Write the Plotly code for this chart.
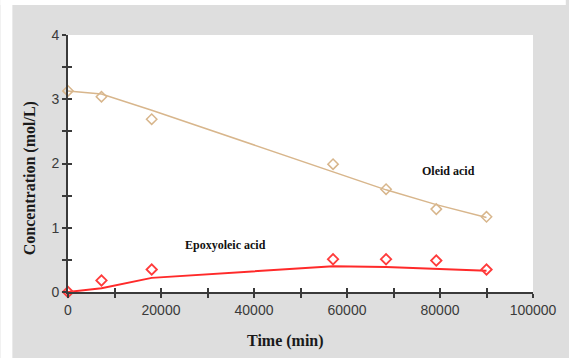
import plotly.graph_objects as go

time_min = [0, 7200, 18000, 57000, 68400, 79200, 90000]
oleic_obs = [3.13, 3.04, 2.69, 1.99, 1.60, 1.29, 1.17]
oleic_fit = [3.13, 3.08, 2.83, 1.88, 1.59, 1.36, 1.16]
epoxy_obs = [0.0, 0.18, 0.35, 0.51, 0.51, 0.49, 0.35]
epoxy_fit = [0.0, 0.06, 0.22, 0.40, 0.39, 0.36, 0.33]

y_ticks = [0, 0.5, 1, 1.5, 2, 2.5, 3, 3.5, 4]
y_text = ["0", "", "1", "", "2", "", "3", "", "4"]
x_ticks = list(range(0, 100001, 10000))
x_text = [str(v) if v % 20000 == 0 else "" for v in x_ticks]

TAN = "#d8b68c"
RED = "#ff2a2a"

fig = go.Figure()
fig.add_trace(go.Scatter(x=time_min, y=oleic_fit, mode="lines",
                         line=dict(color=TAN, width=1.5), cliponaxis=False, showlegend=False))
fig.add_trace(go.Scatter(x=time_min, y=oleic_obs, mode="markers",
                         marker=dict(symbol="diamond-open", size=8, color=TAN, line=dict(width=1.5)),
                         cliponaxis=False, showlegend=False))
fig.add_trace(go.Scatter(x=time_min, y=epoxy_fit, mode="lines",
                         line=dict(color=RED, width=2), cliponaxis=False, showlegend=False))
fig.add_trace(go.Scatter(x=time_min, y=epoxy_obs, mode="markers",
                         marker=dict(symbol="diamond-open", size=8, color="#ff3b3b", line=dict(width=1.8)),
                         cliponaxis=False, showlegend=False))

tickfont = dict(family="Liberation Sans, Arial", size=14, color="#3a3a3a")
axcol = "#3a3a3a"

fig.update_layout(
    width=569, height=358,
    margin=dict(l=68, r=33, t=35, b=66),
    paper_bgcolor="#dedede",
    plot_bgcolor="white",
    xaxis=dict(range=[0, 100000], tickvals=x_ticks, ticktext=x_text, ticks="outside",
               ticklen=4, tickwidth=1.5, tickcolor=axcol, showline=True, linecolor=axcol,
               linewidth=2, showgrid=False, zeroline=False, tickfont=tickfont, fixedrange=True),
    yaxis=dict(range=[0, 4], tickvals=y_ticks, ticktext=y_text, ticks="outside",
               ticklen=4, tickwidth=1.5, tickcolor=axcol, showline=True, linecolor=axcol,
               linewidth=2, showgrid=False, zeroline=False, tickfont=tickfont, fixedrange=True),
    xaxis2=dict(range=[0, 100000], overlaying="x", tickvals=x_ticks, ticks="inside", ticklen=4,
                tickwidth=1.5, tickcolor=axcol, showticklabels=False, showline=False,
                showgrid=False, zeroline=False, fixedrange=True),
    yaxis2=dict(range=[0, 4], overlaying="y", tickvals=y_ticks, ticks="inside", ticklen=4,
                tickwidth=1.5, tickcolor=axcol, showticklabels=False, showline=False,
                showgrid=False, zeroline=False, fixedrange=True),
    shapes=[
        dict(type="rect", xref="paper", yref="paper", x0=-68/468, x1=(12-68)/468,
             y0=-66/257, y1=292/257, fillcolor="white", line=dict(width=0), layer="below"),
        dict(type="rect", xref="paper", yref="paper", x0=-68/468, x1=501/468,
             y0=(292-5)/257, y1=292/257, fillcolor="white", line=dict(width=0), layer="below"),
    ],
    annotations=[
        dict(text="<b>Concentration (mol/L)</b>", xref="paper", yref="paper", x=-0.083, y=0.444,
             xanchor="center", yanchor="middle", textangle=-90, showarrow=False,
             font=dict(family="Liberation Serif, Times New Roman", size=16, color="#1a1a1a")),
        dict(text="<b>Time (min)</b>", xref="paper", yref="paper", x=0.468, y=-0.19,
             xanchor="center", yanchor="middle", showarrow=False,
             font=dict(family="Liberation Serif, Times New Roman", size=16, color="#1a1a1a")),
        dict(text="<b>Oleid acid</b>", xref="x", yref="y", x=81800, y=1.88, showarrow=False,
             font=dict(family="Liberation Serif, Times New Roman", size=12, color="#111111")),
        dict(text="<b>Epoxyoleic acid</b>", xref="x", yref="y", x=33800, y=0.73, showarrow=False,
             font=dict(family="Liberation Serif, Times New Roman", size=12, color="#111111")),
    ],
)
# invisible trace to activate the secondary (inside-tick) axes
fig.add_trace(go.Scatter(x=[0], y=[0], xaxis="x2", yaxis="y2", mode="markers",
                         marker=dict(opacity=0), showlegend=False, hoverinfo="skip"))

fig.write_html("out.html", config={"displayModeBar": False},
               post_script="document.body.style.margin='0';")
